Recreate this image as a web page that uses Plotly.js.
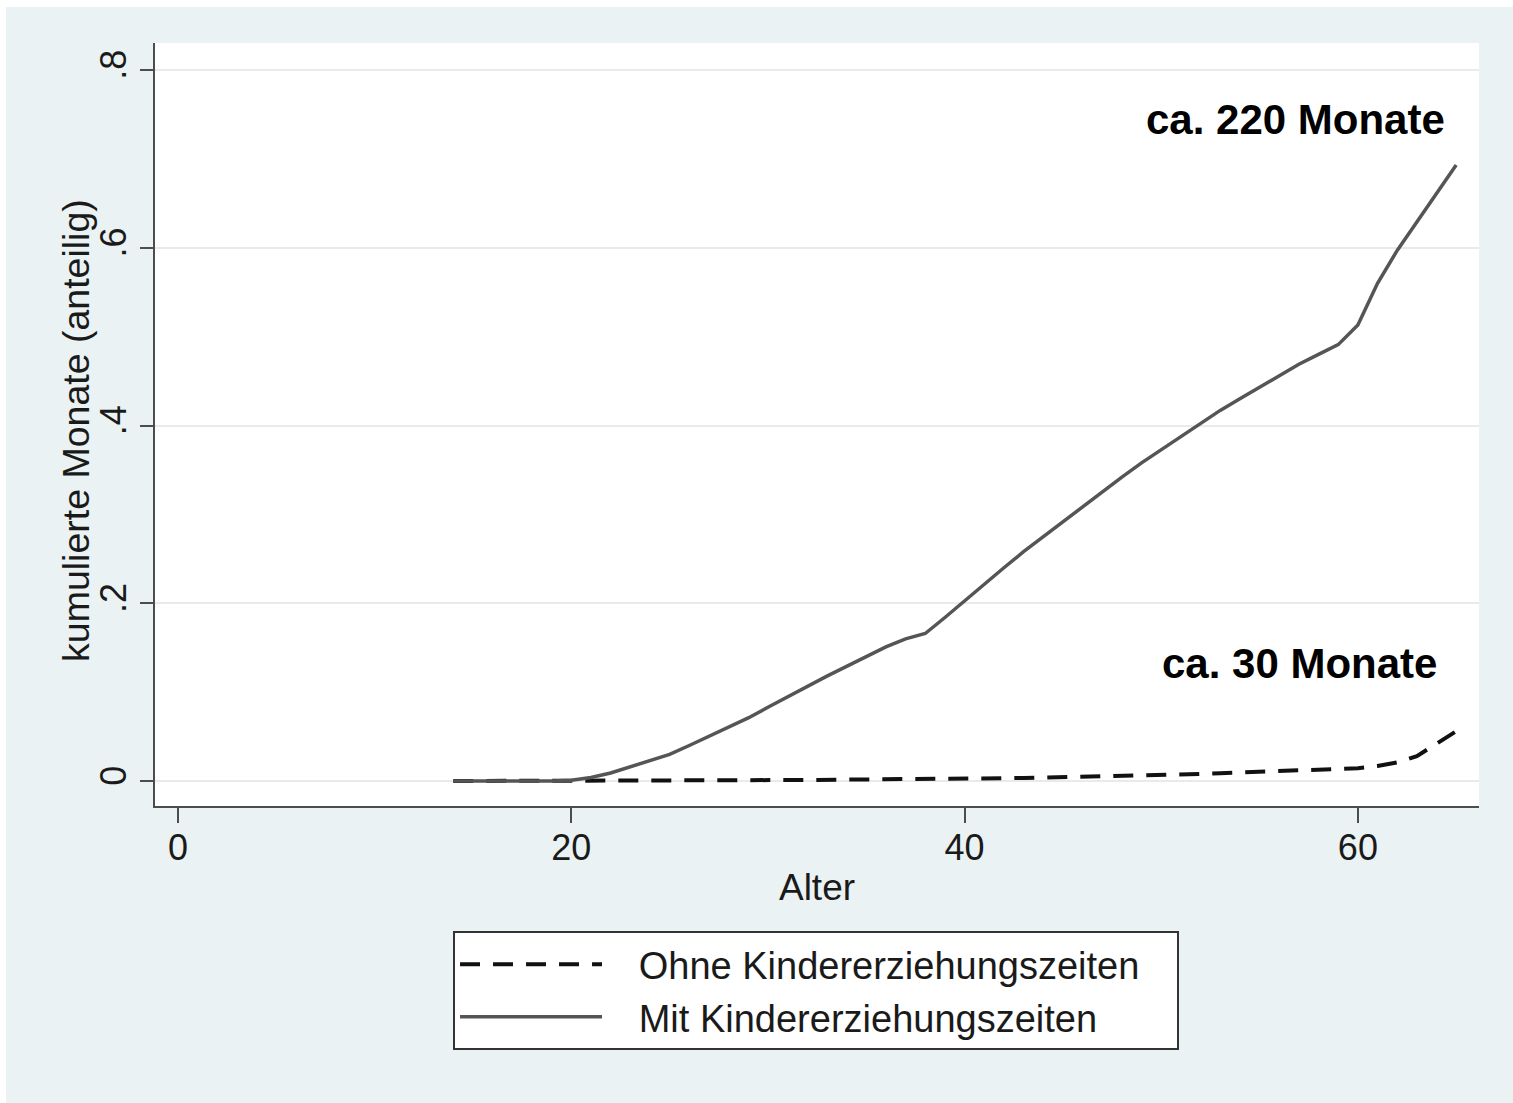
<!DOCTYPE html>
<html>
<head>
<meta charset="utf-8">
<script src="https://cdn.plot.ly/plotly-3.0.1.min.js"></script>
<style>
  html, body { margin: 0; padding: 0; background: #eaf2f3; overflow: hidden; }
  #topstrip { position: absolute; left: 0; top: 0; width: 100%; height: 7px; background: #ffffff; }
  #leftstrip { position: absolute; left: 0; top: 0; width: 6px; height: 100%; background: #ffffff; }
  #chart { position: absolute; left: 6px; top: 7px; width: 1507px; height: 1096px; }
</style>
</head>
<body>
<div id="topstrip"></div>
<div id="leftstrip"></div>
<div id="chart"></div>
<script>
// Age (Alter)
const ages = [14, 15, 16, 17, 18, 19, 20, 21, 22, 23, 24, 25, 26, 27, 28, 29, 30,
              31, 32, 33, 34, 35, 36, 37, 38, 39, 40, 41, 42, 43, 44, 45, 46, 47,
              48, 49, 50, 51, 52, 53, 54, 55, 56, 57, 58, 59, 60, 61, 62, 63, 64, 65];

// Ohne Kindererziehungszeiten (dashed)
const ohne = [0, 0, 0, 0, 0, 0, 0, 0.0003, 0.0005, 0.0006, 0.0007, 0.0008, 0.0009, 0.001, 0.001, 0.001, 0.001,
              0.0011, 0.0012, 0.0013, 0.0014, 0.0015, 0.0016, 0.0017, 0.0018, 0.002, 0.0022, 0.0025, 0.003, 0.0034, 0.0038, 0.0042, 0.0047, 0.0052,
              0.0057, 0.0062, 0.0068, 0.0074, 0.008, 0.0087, 0.0094, 0.0101, 0.0108, 0.0114, 0.012, 0.013, 0.0145, 0.017, 0.021, 0.028, 0.042, 0.056];

// Mit Kindererziehungszeiten (solid)
const mit = [0, 0, 0, 0, 0, 0, 0.001, 0.004, 0.009, 0.016, 0.023, 0.030, 0.040, 0.050, 0.060, 0.071, 0.083,
             0.095, 0.107, 0.118, 0.129, 0.140, 0.151, 0.160, 0.166, 0.184, 0.203, 0.222, 0.240, 0.258, 0.275, 0.292, 0.309, 0.326,
             0.342, 0.358, 0.373, 0.388, 0.403, 0.417, 0.430, 0.443, 0.456, 0.469, 0.480, 0.491, 0.513, 0.560, 0.597, 0.629, 0.660, 0.693];

const xTicks = [0, 20, 40, 60];
const xTickText = ['0', '20', '40', '60'];
const yTicks = [0, 0.2, 0.4, 0.6, 0.8];
const yTickText = ['0', '.2', '.4', '.6', '.8'];

const seriesNames = ['Ohne Kindererziehungszeiten', 'Mit Kindererziehungszeiten'];
const xTitle = 'Alter';
const yTitle = 'kumulierte Monate (anteilig)';
const noteTexts = ['ca. 220 Monate', 'ca. 30 Monate'];
const noteX = [56.85, 57.05];
const noteY = [0.744, 0.132];

const FONT = 'Liberation Sans, Arial, Helvetica, sans-serif';
const NB = '\u00a0';

const traces = [
  {
    x: ages, y: ohne, name: NB.repeat(3) + seriesNames[0] + NB.repeat(3), type: 'scatter', mode: 'lines',
    line: { color: '#111111', width: 4, dash: '20px,13px' }
  },
  {
    x: ages, y: mit, name: NB.repeat(3) + seriesNames[1], type: 'scatter', mode: 'lines',
    line: { color: '#555555', width: 3.5 }
  }
];

const layout = {
  width: 1507, height: 1096,
  paper_bgcolor: '#eaf2f3',
  plot_bgcolor: '#ffffff',
  margin: { l: 149, r: 34, t: 36, b: 297 },
  font: { family: FONT, color: '#1a1a1a', size: 36 },
  showlegend: true,
  legend: {
    x: 0.2251, y: -0.164, xanchor: 'left', yanchor: 'top',
    bgcolor: '#ffffff', bordercolor: '#333333', borderwidth: 2,
    font: { family: FONT, size: 38, color: '#1a1a1a' },
    itemwidth: 142, tracegroupgap: 0
  },
  xaxis: {
    range: [-1.17, 66.16],
    tickvals: xTicks, ticktext: xTickText,
    ticks: 'outside', ticklen: 15, tickwidth: 2, tickcolor: '#4d4d4d',
    ticklabelstandoff: -6,
    showline: true, linecolor: '#4d4d4d', linewidth: 2,
    showgrid: false, zeroline: false,
    tickfont: { family: FONT, size: 36, color: '#1a1a1a' },
    title: { text: xTitle, font: { family: FONT, size: 37, color: '#1a1a1a' }, standoff: 7 }
  },
  yaxis: {
    range: [-0.0281, 0.8304],
    tickvals: yTicks, ticktext: yTickText, tickangle: -90,
    ticks: 'outside', ticklen: 13, tickwidth: 2, tickcolor: '#4d4d4d',
    showline: true, linecolor: '#4d4d4d', linewidth: 2,
    showgrid: true, gridcolor: '#eaeaea', gridwidth: 2,
    zeroline: false,
    tickfont: { family: FONT, size: 36, color: '#1a1a1a' },
    title: { text: '' }
  },
  annotations: [
    {
      x: -0.0597, y: 0.4928, xref: 'paper', yref: 'paper', text: yTitle,
      showarrow: false, textangle: -90, xanchor: 'center', yanchor: 'middle',
      font: { family: FONT, size: 37.5, color: '#1a1a1a' }
    }
  ].concat(noteTexts.map((t, i) => ({
    x: noteX[i], y: noteY[i], xref: 'x', yref: 'y', text: '<b>' + t + '</b>',
    showarrow: false, xanchor: 'center', yanchor: 'middle',
    font: { family: FONT, size: 42, color: '#000000' }
  })))
};

Plotly.newPlot('chart', traces, layout, { displayModeBar: false, staticPlot: true });
</script>
</body>
</html>
